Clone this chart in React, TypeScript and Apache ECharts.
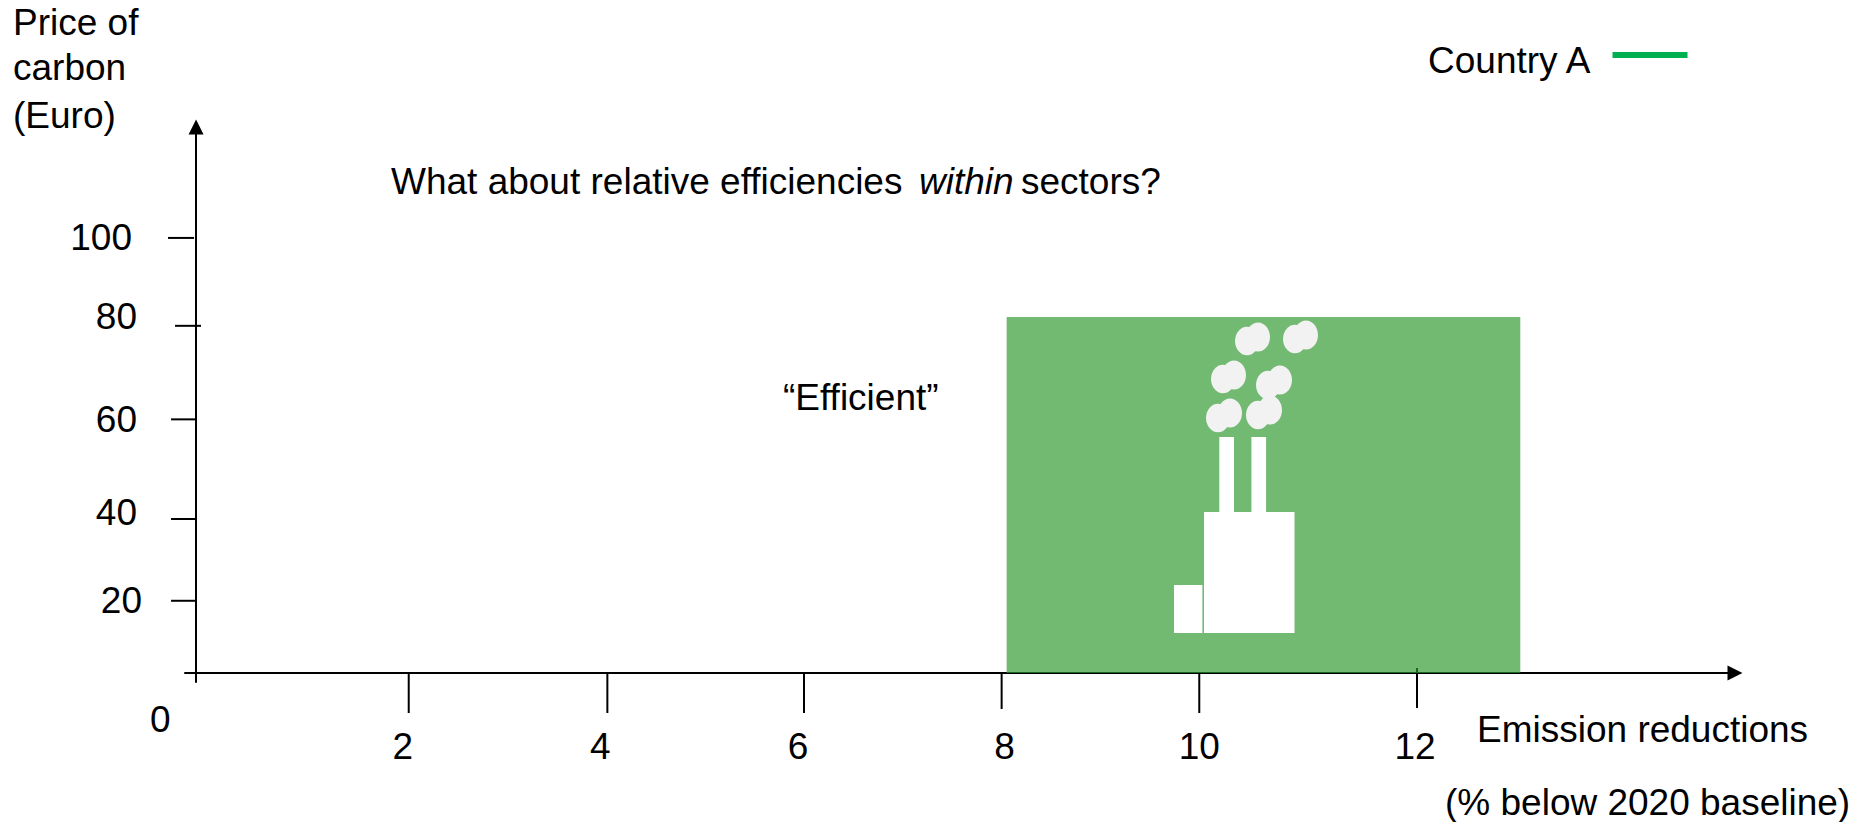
import React, { useEffect, useRef } from "react";
import * as echarts from "echarts";

const xTickLabels = ["2", "4", "6", "8", "10", "12"];
const xLabelAt = [2.06, 4.03, 6.0, 8.06, 10.0, 12.15];
const xTickAt = [2.12, 4.1, 6.06, 8.03, 10, 12.17];
const yTickLabels = ["100", "80", "60", "40", "20"];
const yLabelAt = [100, 81.9, 58.2, 36.8, 16.6];
const yTickAt = [100, 79.8, 58.3, 35.4, 16.6];
const xTickReach = [[0, 40], [0, 40], [0, 40], [0, 36], [0, 40], [-5, 35]];
const yTickReach = [[-28, -2], [-21, 5], [-25, 0], [-25, 0], [-25, 0]];
const yLabelStyle = ["a", "b", "b", "b", "c"];
const regionX = [8.08, 13.2];
const regionY = [0, 81.8];
const seriesName = "Country A";

const FONT = "'Liberation Sans', Arial, sans-serif";
const FS = 37;
const INK = "#000000";

const smokeClouds = [
  [1247, 341, 1258, 337],
  [1295, 339, 1306, 335],
  [1223, 379, 1234, 375],
  [1268, 385, 1280, 380],
  [1218, 418, 1230, 413],
  [1258, 415, 1270, 410],
];
const factoryBlocks = [
  [1174, 585, 28.4, 48],
  [1204, 512, 90.5, 121],
  [1219.3, 437, 14.7, 76],
  [1251.4, 437, 14.7, 76],
];

function txt(text: string, x: number, y: number, extra: any = {}) {
  return {
    type: "text",
    x,
    y,
    z: 10,
    style: { text, fill: INK, font: `${FS}px ${FONT}`, textVerticalAlign: "middle", ...extra },
  };
}

export default function App() {
  const ref = useRef<HTMLDivElement>(null);
  useEffect(() => {
    const chart = echarts.init(ref.current!, undefined, { renderer: "svg" });
    const graphics: any[] = [
      txt("Price of", 13, 22),
      txt("carbon", 13, 67),
      txt("(Euro)", 13, 115),
      txt("0", 150, 719),
      txt("\u201CEfficient\u201D", 783, 397),
      txt("Emission reductions", 1477, 729),
      txt("(% below 2020 baseline)", 1445, 802),
      txt("What about relative efficiencies", 391, 181),
      txt("within", 919, 181, { font: `italic ${FS}px ${FONT}` }),
      txt("sectors?", 1021, 181),
    ];
    factoryBlocks.forEach(([x, y, width, height]) =>
      graphics.push({ type: "rect", z: 9, shape: { x, y, width, height }, style: { fill: "#ffffff" } })
    );
    smokeClouds.forEach(([ax, ay, bx, by]) => {
      graphics.push({ type: "ellipse", z: 9, shape: { cx: ax, cy: ay, rx: 12, ry: 14.3 }, style: { fill: "#f2f2f2" } });
      graphics.push({ type: "ellipse", z: 9, shape: { cx: bx, cy: by, rx: 12, ry: 14.6 }, style: { fill: "#f2f2f2" } });
    });

    chart.setOption({
      animation: false,
      backgroundColor: "#ffffff",
      textStyle: { fontFamily: FONT },
      grid: { left: 185, right: 123, top: 127, bottom: 140 },
      legend: {
        show: true,
        data: [seriesName],
        left: 1421,
        top: 37,
        align: "right",
        icon: "path://M0 0H75V6H0Z M0 17H75",
        itemWidth: 75,
        itemHeight: 17,
        selectedMode: false,
        textStyle: { fontSize: FS, color: INK, fontFamily: FONT, padding: [0, 17, 0, 0] },
      },
      xAxis: {
        type: "value",
        min: -0.11,
        max: 15.34,
        splitLine: { show: false },
        axisTick: { show: false },
        axisLine: {
          show: true,
          onZero: true,
          symbol: ["none", "triangle"],
          symbolSize: [15, 15],
          lineStyle: { color: INK, width: 2 },
        },
        axisLabel: {
          show: true,
          customValues: xLabelAt,
          margin: 46,
          fontSize: FS,
          color: INK,
          fontFamily: FONT,
          formatter: (v: number) => xTickLabels[xLabelAt.indexOf(v)] ?? "",
        },
      },
      yAxis: {
        type: "value",
        min: -2.07,
        max: 125.5,
        splitLine: { show: false },
        axisTick: { show: false },
        axisLine: {
          show: true,
          onZero: true,
          symbol: ["none", "triangle"],
          symbolSize: [15, 15],
          lineStyle: { color: INK, width: 2 },
        },
        axisLabel: {
          show: true,
          customValues: yLabelAt,
          margin: 43,
          fontSize: FS,
          color: INK,
          fontFamily: FONT,
          formatter: (v: number) => {
            const i = yLabelAt.indexOf(v);
            return i < 0 ? "" : `{${yLabelStyle[i]}|${yTickLabels[i]}}`;
          },
          rich: {
            a: { fontSize: FS, fontFamily: FONT, color: INK, padding: [0, 10, 0, 0] },
            b: { fontSize: FS, fontFamily: FONT, color: INK, padding: [0, 5, 0, 0] },
            c: { fontSize: FS, fontFamily: FONT, color: INK },
          },
        },
      },
      series: [
        { name: seriesName, type: "line", data: [], itemStyle: { color: "#00b050" }, lineStyle: { color: "#00b050" } },
        {
          type: "custom",
          name: "x ticks",
          z: 1,
          silent: true,
          clip: false,
          data: xTickAt.map((v, i) => [v, i]),
          renderItem: (_: any, api: any) => {
            const p = api.coord([api.value(0), 0]);
            const r = xTickReach[api.value(1)];
            return {
              type: "line",
              shape: { x1: p[0], y1: p[1] + r[0], x2: p[0], y2: p[1] + r[1] },
              style: { stroke: INK, lineWidth: 2 },
            };
          },
        },
        {
          type: "custom",
          name: "y ticks",
          z: 1,
          silent: true,
          clip: false,
          data: yTickAt.map((v, i) => [0, v, i]),
          renderItem: (_: any, api: any) => {
            const p = api.coord([0, api.value(1)]);
            const r = yTickReach[api.value(2)];
            return {
              type: "line",
              shape: { x1: p[0] + r[0], y1: p[1], x2: p[0] + r[1], y2: p[1] },
              style: { stroke: INK, lineWidth: 2 },
            };
          },
        },
        {
          type: "custom",
          name: "Efficient region",
          z: 2,
          silent: true,
          clip: false,
          data: [[regionX[0], regionY[1], regionX[1], regionY[0]]],
          renderItem: (_: any, api: any) => {
            const a = api.coord([api.value(0), api.value(1)]);
            const b = api.coord([api.value(2), api.value(3)]);
            return {
              type: "rect",
              shape: { x: a[0], y: a[1], width: b[0] - a[0], height: b[1] - a[1] },
              style: { fill: "rgba(45,150,45,0.67)" },
            };
          },
        },
      ],
      graphic: graphics,
    });
    return () => chart.dispose();
  }, []);
  return <div ref={ref} style={{ position: "absolute", left: 0, top: 0, width: 1858, height: 822 }} />;
}
